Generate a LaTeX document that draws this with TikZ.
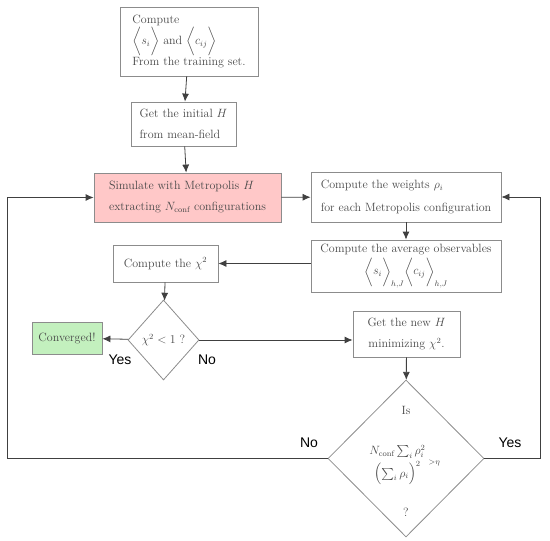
\documentclass[tikz,border=0pt]{standalone}
\usepackage{fontspec}
\usepackage{amsmath}
\usetikzlibrary{shapes.geometric,arrows.meta}
\newfontfamily\labfont{Liberation Sans}
\definecolor{txt}{gray}{0.28}
\definecolor{brd}{gray}{0.55}
\definecolor{pinkfill}{RGB}{255,200,200}
\definecolor{greenfill}{RGB}{195,240,190}
\begin{document}
\begin{tikzpicture}[x=1pt,y=-1pt,
  every node/.style={text=txt,font=\fontsize{12}{15}\selectfont},
  box/.style={draw=brd,line width=0.8pt,inner sep=0pt,rectangle},
  dia/.style={draw=brd,line width=0.8pt,diamond,inner sep=0pt},
  conn/.style={draw=black!75,line width=0.8pt},
  arr/.style={conn,-{Latex[length=8pt,width=7pt]}},
  lab/.style={text=black,font=\labfont\fontsize{14}{16}\selectfont}]
\useasboundingbox (0,0) rectangle (550,541);
\node[box,minimum width=138pt,minimum height=69pt,align=left] (b1) at (189,41.5)
  {Compute\\[0pt] $\biggl\langle s_i\biggr\rangle$ and $\biggl\langle c_{ij}\biggr\rangle$\\[0pt] From the training set.};
\node[box,minimum width=105pt,minimum height=44pt,align=left] (b2) at (183.5,124)
  {Get the initial $H$\\[6pt] from mean-field};
\node[box,fill=pinkfill,minimum width=187pt,minimum height=49pt,align=left] (sim) at (187.5,197.5)
  {Simulate with Metropolis $H$\\[6pt] extracting $N_{\mathrm{conf}}$ configurations};
\node[box,minimum width=190pt,minimum height=50pt,align=left] (wt) at (406,197)
  {Compute the weights $\rho_i$\\[8pt] for each Metropolis configuration};
\node[box,minimum width=190pt,minimum height=52pt,align=center] (avg) at (406,266)
  {Compute the average observables\\[2pt] $\biggl\langle s_i\biggr\rangle_{h,J}\biggl\langle c_{ij}\biggr\rangle_{h,J}$};
\node[box,minimum width=105pt,minimum height=37pt] (chi) at (165.5,263.5) {Compute the $\chi^2$};
\node[dia,minimum width=71pt,minimum height=80pt] (d1) at (163.5,340) {$\chi^2<1$ ?};
\node[box,fill=greenfill,minimum width=70pt,minimum height=32pt] (conv) at (67,338) {Converged!};
\node[box,minimum width=107pt,minimum height=46pt,align=center] (newh) at (406.5,334)
  {Get the new $H$\\[6pt] minimizing $\chi^2$.};
\node[dia,minimum width=156pt,minimum height=157pt] (d2) at (406,458.5) {};
\node (is) at (406,410) {Is};
\node (frm) at (404,465) {$\genfrac{}{}{0pt}{0}{N_{\mathrm{conf}}\sum_i\rho_i^2}{\Bigl(\sum_i\rho_i\Bigr)^2}\,\raisebox{1pt}{$\scriptstyle>\eta$}$};
\node (q) at (406,512) {?};
\node[lab] (yes1) at (120,360) {Yes};
\node[lab] (no1) at (207,360) {No};
\node[lab] (no2) at (309,443) {No};
\node[lab] (yes2) at (510,443) {Yes};
\coordinate (lc) at (7.5,458.5);
\coordinate (lt) at (7.5,197.5);
\coordinate (rc) at (540,458.5);
\coordinate (rt) at (540,197);
\draw[arr] (b1) -- (b2);
\draw[arr] (b2) -- (sim);
\draw[arr] (sim) -- (wt);
\draw[arr] (wt) -- (avg);
\draw[arr] (avg.west |- chi.east) -- (chi.east);
\draw[arr] (chi) -- (d1);
\draw[arr] (d1) -- (conv);
\draw[arr] (d1.east) -- (newh.west |- d1.east);
\draw[arr] (newh) -- (d2);
\draw[arr] (d2.west) -- (lc) -- (lt) -- (sim.west);
\draw[arr] (d2.east) -- (rc) -- (rt) -- (wt.east);
\end{tikzpicture}
\end{document}
